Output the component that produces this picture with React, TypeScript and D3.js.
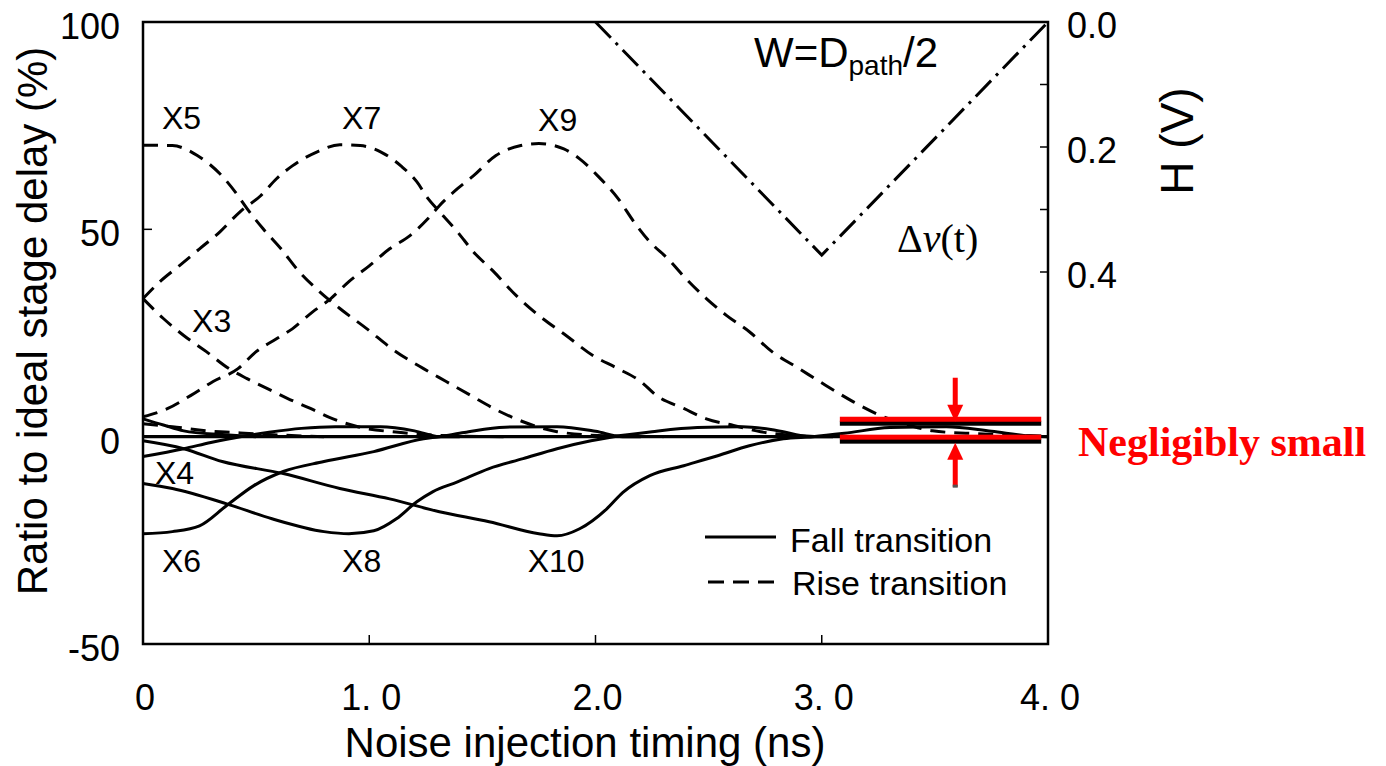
import React from 'react';
import * as d3 from 'd3';

type Pt = [number, number];

// ---- axis ticks ----
const X_TICKS = [0, 1, 2, 3, 4];
const X_TICK_LABELS = ['0', '1. 0', '2.0', '3. 0', '4. 0'];
const Y_TICKS = [100, 50, 0, -50];
const H_TICKS = [0, 0.2, 0.4];
const H_TICK_LABELS = ['0.0', '0.2', '0.4'];
const H_MINOR = [0.1, 0.2, 0.3, 0.4];

// ---- Rise transition (dashed): [noise injection timing ns, ratio %] ----
const riseX1: Pt[] = [[0, 3.1], [0.13, 2.4], [0.28, 1.4], [0.4, 1.0], [0.6, 0.4], [0.8, 0]];
const riseX3: Pt[] = [[0, 33.3], [0.09, 28.5], [0.18, 24.4], [0.28, 20.5], [0.38, 16.4], [0.46, 14.0], [0.55, 11.6], [0.64, 9.2], [0.74, 6.8], [0.84, 4.3], [0.95, 2.4], [1.14, 1.0], [1.36, 0.2], [1.6, 0]];
const riseX5: Pt[] = [[0, 70.3], [0.13, 70.2], [0.24, 67.8], [0.34, 63.4], [0.42, 58.1], [0.46, 55.0], [0.53, 50.2], [0.61, 45.3], [0.69, 39.8], [0.78, 35.0], [0.87, 30.9], [0.99, 26.0], [1.10, 21.2], [1.24, 16.4], [1.34, 13.3], [1.45, 9.9], [1.55, 6.8], [1.68, 3.6], [1.83, 1.2], [2.05, 0.2], [2.3, 0]];
const riseX7: Pt[] = [[0, 33.3], [0.075, 37.4], [0.16, 41.2], [0.25, 45.3], [0.34, 49.4], [0.43, 54.3], [0.52, 58.1], [0.59, 62.2], [0.66, 65.3], [0.77, 68.7], [0.87, 70.4], [0.96, 70.2], [1.05, 68.7], [1.14, 65.3], [1.21, 61.5], [1.26, 57.4], [1.31, 54.3], [1.39, 49.4], [1.46, 44.6], [1.55, 39.8], [1.65, 34.0], [1.75, 29.2], [1.87, 24.4], [1.99, 19.5], [2.10, 16.4], [2.20, 13.3], [2.27, 9.9], [2.39, 6.8], [2.49, 4.3], [2.61, 2.7], [2.73, 1.2], [2.90, 0.2], [3.0, 0]];
const riseX9: Pt[] = [[0, 4.8], [0.11, 6.8], [0.21, 9.9], [0.31, 13.3], [0.42, 16.4], [0.50, 20.5], [0.59, 23.6], [0.66, 26.0], [0.75, 30.1], [0.83, 33.3], [0.91, 37.4], [1.00, 41.2], [1.09, 45.3], [1.18, 48.5], [1.26, 52.6], [1.31, 55.7], [1.39, 59.8], [1.46, 62.9], [1.56, 67.8], [1.67, 70.2], [1.75, 70.7], [1.86, 69.4], [1.93, 67.0], [2.01, 62.9], [2.10, 57.4], [2.17, 51.8], [2.24, 47.0], [2.32, 42.9], [2.40, 38.1], [2.49, 33.3], [2.58, 29.2], [2.68, 25.3], [2.78, 20.5], [2.90, 16.4], [3.02, 12.3], [3.14, 8.4], [3.26, 5.1], [3.39, 2.7], [3.49, 1.4], [3.69, 0.7], [3.92, 0.2], [4.0, 0.1]];

// ---- Fall transition (solid) ----
const fallX2: Pt[] = [[0, 4.3], [0.09, 2.8], [0.18, 1.4], [0.35, 0.5], [0.5, 0]];
const fallX4: Pt[] = [[0, -4.8], [0.18, -2.9], [0.3, -1.4], [0.43, 0], [0.55, 1.0], [0.7, 2.0], [0.85, 2.4], [1.05, 2.4], [1.2, 1.4], [1.31, 0], [1.4, 0]];
const fallX6: Pt[] = [[0, -23.4], [0.13, -22.9], [0.25, -21.5], [0.37, -16.6], [0.49, -11.8], [0.62, -8.4], [0.80, -6.0], [1.02, -3.6], [1.24, -0.5], [1.31, 0], [1.42, 1.0], [1.6, 2.3], [1.83, 2.4], [2.0, 1.3], [2.12, 0], [2.2, 0]];
const fallX8: Pt[] = [[0, -11.3], [0.13, -12.5], [0.37, -16.2], [0.57, -19.8], [0.80, -22.9], [0.91, -23.4], [1.02, -22.7], [1.12, -19.8], [1.21, -15.7], [1.28, -13.3], [1.39, -10.9], [1.53, -7.7], [1.68, -5.3], [1.83, -2.9], [1.98, -1.0], [2.08, 0], [2.25, 1.2], [2.45, 2.2], [2.65, 2.4], [2.8, 1.5], [2.95, 0], [3.05, 0]];
const fallX10: Pt[] = [[0, -1.0], [0.18, -2.9], [0.35, -6.0], [0.62, -8.9], [0.87, -12.5], [1.09, -15.0], [1.31, -18.1], [1.53, -20.5], [1.75, -23.4], [1.83, -23.9], [1.93, -22.2], [2.05, -17.4], [2.12, -13.5], [2.24, -9.4], [2.39, -7.0], [2.54, -4.6], [2.68, -2.2], [2.83, -0.5], [2.96, 0], [3.1, 0.8], [3.3, 2.2], [3.55, 2.4], [3.75, 1.3], [3.92, 0.2], [4.0, 0]];

// ---- Noise waveform Δv(t): [ns, H volts] (right axis) ----
const deltaV: Pt[] = [[2.0, 0], [3.0, 0.373], [4.0, 0]];

// ---- curve labels: [name, t, ratio] (text start / baseline) ----
const CURVE_LABELS: [string, number, number][] = [
  ['X5', 0.084, 74.3], ['X7', 0.88, 74.3], ['X9', 1.746, 73.8], ['X3', 0.217, 25.3],
  ['X4', 0.053, -11.3], ['X6', 0.084, -32.6], ['X8', 0.88, -32.6], ['X10', 1.70, -32.6],
];

const SANS = '"Liberation Sans", Arial, Helvetica, sans-serif';
const SERIF = '"Liberation Serif", "Times New Roman", serif';

export default function App() {
  const W = 1386, H = 766;
  const L = 143, R = 1048, T = 22, B = 644;
  const x = d3.scaleLinear().domain([0, 4]).range([L, R]);
  const y = d3.scaleLinear().domain([-50, 100]).range([B, T]);
  const h = d3.scaleLinear().domain([0, 0.4]).range([T, 272]);

  const line = d3.line<Pt>().x(d => x(d[0])).y(d => y(d[1])).curve(d3.curveMonotoneX);
  const hLine = d3.line<Pt>().x(d => x(d[0])).y(d => h(d[1]));

  const rise = [riseX1, riseX3, riseX5, riseX7, riseX9];
  const fall = [fallX2, fallX4, fallX6, fallX8, fallX10];

  // annotation band
  const bx0 = x(3.08), bx1 = x(3.97);
  const yUp = y(3.6), yLo = y(0);
  const ax = x(3.59);

  return (
    <svg width={W} height={H} style={{ display: 'block', position: 'absolute', left: 0, top: 0, background: '#fff' }}>
      <rect x={0} y={0} width={W} height={H} fill="#fff" />
      {/* zero line */}
      <line x1={L} x2={R} y1={y(0)} y2={y(0)} stroke="#000" strokeWidth={3.2} />
      {/* curves */}
      {fall.map((d, i) => (
        <path key={'f' + i} d={line(d) || ''} fill="none" stroke="#000" strokeWidth={3} strokeLinejoin="round" />
      ))}
      {rise.map((d, i) => (
        <path key={'r' + i} d={line(d) || ''} fill="none" stroke="#000" strokeWidth={3} strokeDasharray="15,9" />
      ))}
      <path d={hLine(deltaV) || ''} fill="none" stroke="#000" strokeWidth={3} strokeDasharray="22,7,3,7" />

      {/* frame */}
      <rect x={L} y={T} width={R - L} height={B - T} fill="none" stroke="#000" strokeWidth={2.5} />
      {/* left ticks */}
      {Y_TICKS.map(v => (
        <g key={'yt' + v}>
          <line x1={L} x2={L + 9} y1={y(v)} y2={y(v)} stroke="#000" strokeWidth={1.5} />
          <text x={120} y={y(v) + 17} textAnchor="end" fontFamily={SANS} fontSize={36}>{v}</text>
        </g>
      ))}
      {/* bottom ticks */}
      {X_TICKS.map((v, i) => (
        <g key={'xt' + v}>
          <line x1={x(v)} x2={x(v)} y1={B} y2={B - 9} stroke="#000" strokeWidth={1.5} />
          <text x={x(v) + 2} y={710} textAnchor="middle" fontFamily={SANS} fontSize={36}>{X_TICK_LABELS[i]}</text>
        </g>
      ))}
      {/* right ticks */}
      {H_MINOR.map(v => (
        <line key={'hm' + v} x1={R} x2={R - 8} y1={h(v)} y2={h(v)} stroke="#000" strokeWidth={1.5} />
      ))}
      {H_TICKS.map((v, i) => (
        <text key={'ht' + v} x={1067} y={h(v) + 16} fontFamily={SANS} fontSize={36}>{H_TICK_LABELS[i]}</text>
      ))}

      {/* axis titles */}
      <text transform={`translate(47,321) rotate(-90)`} textAnchor="middle" fontFamily={SANS} fontSize={42}>Ratio to ideal stage delay (%)</text>
      <text x={585} y={757} textAnchor="middle" fontFamily={SANS} fontSize={42}>Noise injection timing (ns)</text>
      <text transform={`translate(1193,141) rotate(-90)`} textAnchor="middle" fontFamily={SANS} fontSize={46}>H (V)</text>

      {/* curve labels */}
      {CURVE_LABELS.map(([n, t, v]) => (
        <text key={n} x={x(t)} y={y(v)} fontFamily={SANS} fontSize={32}>{n}</text>
      ))}

      {/* W = Dpath/2 */}
      <text x={754} y={67} fontFamily={SANS} fontSize={42}>
        W=D<tspan fontSize={28} dy={8}>path</tspan><tspan dy={-8}>/2</tspan>
      </text>
      {/* Δv(t) */}
      <text x={897} y={252} fontFamily={SERIF} fontSize={40}>
        Δ<tspan fontStyle="italic">v</tspan>(t)
      </text>

      {/* legend */}
      <line x1={705} x2={776} y1={537} y2={537} stroke="#000" strokeWidth={3} />
      <text x={790} y={552} fontFamily={SANS} fontSize={34}>Fall transition</text>
      <line x1={708} x2={774} y1={582} y2={582} stroke="#000" strokeWidth={3} strokeDasharray="16,9" />
      <text x={792} y={595} fontFamily={SANS} fontSize={34}>Rise transition</text>

      {/* negligibly small annotation */}
      <rect x={bx0} y={yUp - 1} width={bx1 - bx0} height={5} fill="#000" />
      <rect x={bx0} y={yUp - 5} width={bx1 - bx0} height={5} fill="#ff0000" />
      <rect x={bx0} y={yLo + 2} width={bx1 - bx0} height={5} fill="#000" />
      <rect x={bx0} y={yLo - 2} width={bx1 - bx0} height={5} fill="#ff0000" />
      {/* down arrow */}
      <rect x={ax - 2.5} y={yUp - 44} width={5} height={28} fill="#ff0000" />
      <path d={`M${ax - 8},${yUp - 17} L${ax + 8},${yUp - 17} L${ax},${yUp} Z`} fill="#ff0000" />
      {/* up arrow */}
      <path d={`M${ax - 8},${yLo + 23} L${ax + 8},${yLo + 23} L${ax},${yLo + 6} Z`} fill="#ff0000" />
      <rect x={ax - 2.5} y={yLo + 22} width={5} height={28} fill="#ff0000" />
      <rect x={ax - 2.5} y={yLo + 48} width={5} height={3} fill="#555" />
      <text x={1078} y={456} fill="#ff0000" fontFamily={SERIF} fontWeight="bold" fontSize={42}>Negligibly small</text>
    </svg>
  );
}
